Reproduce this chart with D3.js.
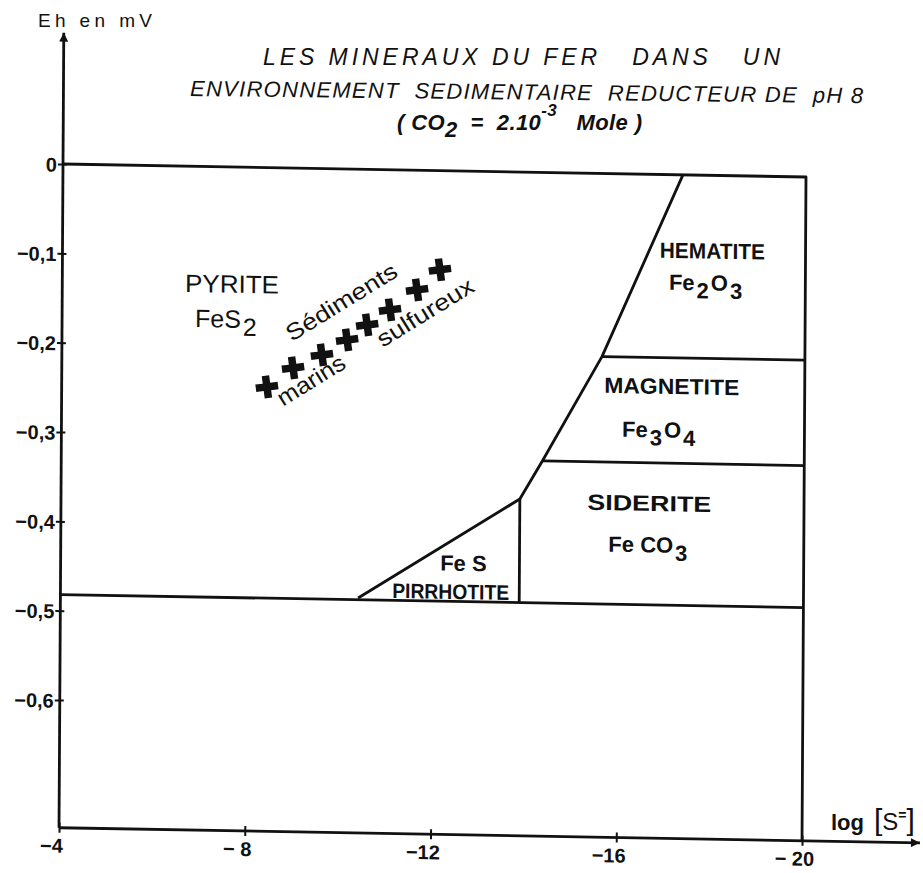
<!DOCTYPE html>
<html lang="fr">
<head>
<meta charset="utf-8">
<title>Les minéraux du fer</title>
<script src="https://cdn.jsdelivr.net/npm/d3@7"></script>
<style>
  body { margin: 0; background: #fff; }
  svg text { font-family: "Liberation Sans", Arial, sans-serif; fill: #111; }
</style>
</head>
<body>
<div id="chart"></div>
<script>
    // axis ticks
    var xTicks = [-4, -8, -12, -16, -20]
    var xTickLabels = ["−4", "− 8", "−12", "−16", "− 20"]
    var yTicks = [0, -0.1, -0.2, -0.3, -0.4, -0.5, -0.6]
    var yTickLabels = ["0", "−0,1", "−0,2", "−0,3", "−0,4", "−0,5", "−0,6"]

    // field boundaries as [log S=, Eh]
    var frame = [[-4, 0], [-20, 0], [-20, -0.743]]
    var lowerLimit = [[-4, -0.482], [-20, -0.482]]
    var oxideBoundary = [[-17.35, 0], [-15.63, -0.205], [-14.36, -0.323], [-13.88, -0.366], [-10.41, -0.48]]
    var fesLimit = [[-13.88, -0.366], [-13.88, -0.482]]
    var hematiteMagnetite = [[-15.63, -0.205], [-20, -0.205]]
    var magnetiteSiderite = [[-14.36, -0.323], [-20, -0.323]]

    // marine sulphur sediments
    var sampleLogS = [-8.42, -8.98, -9.60, -10.14, -10.57, -11.06, -11.64, -12.13]
    var sampleEh = [-0.2455, -0.2237, -0.2086, -0.1913, -0.1741, -0.1568, -0.1339, -0.111]

    // field names, parts flagged 1 are subscripts
    var fieldNames = [
        { parts: [["PYRITE", 0]], logS: -6.60, eh: -0.1408, len: 94 },
        { parts: [["FeS", 0], ["2", 1]], logS: -6.82, eh: -0.1798 },
        { parts: [["HEMATITE", 0]], logS: -16.82, eh: -0.0932, bold: true, len: 105 },
        { parts: [["Fe", 0], ["2", 1], ["O", 0], ["3", 1]], logS: -17.02, eh: -0.1288, bold: true },
        { parts: [["MAGNETITE", 0]], logS: -15.64, eh: -0.2455, bold: true, len: 135 },
        { parts: [["Fe", 0], ["3", 1], ["O", 0], ["4", 1]], logS: -16.03, eh: -0.2944, bold: true },
        { parts: [["SIDERITE", 0]], logS: -15.29, eh: -0.3768, bold: true, len: 124 },
        { parts: [["Fe CO", 0], ["3", 1]], logS: -15.75, eh: -0.4232, bold: true },
        { parts: [["Fe S", 0]], logS: -12.13, eh: -0.4475, bold: true },
        { parts: [["PIRRHOTITE", 0]], logS: -11.10, eh: -0.4792, bold: true, small: true, len: 117 }
    ]
    var sampleNotes = [
        { text: "Sédiments", logS: -8.95, eh: -0.1947, len: 127 },
        { text: "marins", logS: -8.77, eh: -0.2675, len: 76 },
        { text: "sulfureux", logS: -10.91, eh: -0.1995, len: 110 }
    ]

    var ehBottom = -0.743, ehAxisTop = 0.147, logSAxisEnd = -22.54

    var svg = d3.select("#chart").append("svg")
        .attr("width", 923)
        .attr("height", 873)

    var defs = svg.append("defs")
    defs.append("marker")
        .attr("id", "arrow")
        .attr("viewBox", "0 0 10 10")
        .attr("refX", 10).attr("refY", 5)
        .attr("markerUnits", "userSpaceOnUse")
        .attr("markerWidth", 24).attr("markerHeight", 9)
        .attr("orient", "auto")
        .append("path").attr("d", "M0,0L10,5L0,10z").attr("fill", "#111")

    // scales (the scan is slightly skewed, so the plot group gets a small shear)
    var x = d3.scaleLinear().domain([-4, -20]).range([63, 806])
    var y = d3.scaleLinear().domain([0, -0.6]).range([164, 700])

    var g = svg.append("g")
        .attr("transform", "translate(63,164) matrix(1,0.0175,-0.006,1,0,0) translate(-63,-164)")

    var line = d3.line().x(d => x(d[0])).y(d => y(d[1]))

    // axes lines with arrows
    g.append("line")
        .attr("x1", x(-4)).attr("y1", y(ehBottom))
        .attr("x2", x(-4)).attr("y2", y(ehAxisTop))
        .attr("stroke", "#111").attr("stroke-width", 2.8)
        .attr("marker-end", "url(#arrow)")
    g.append("line")
        .attr("x1", x(-4)).attr("y1", y(ehBottom))
        .attr("x2", x(logSAxisEnd)).attr("y2", y(ehBottom))
        .attr("stroke", "#111").attr("stroke-width", 2.8)
        .attr("marker-end", "url(#arrow)")

    var xAxis = g.append("g")
        .attr("transform", "translate(0," + y(ehBottom) + ")")
        .call(d3.axisBottom(x).tickValues(xTicks).tickFormat((d, i) => xTickLabels[i]).tickSizeOuter(0))
    var yAxis = g.append("g")
        .attr("transform", "translate(" + x(-4) + ",0)")
        .call(d3.axisLeft(y).tickValues(yTicks).tickFormat((d, i) => yTickLabels[i]).tickSizeOuter(0))

    xAxis.select(".domain").remove()
    yAxis.select(".domain").remove()
    xAxis.selectAll(".tick line").attr("y1", -5).attr("y2", 5).attr("stroke", "#111").attr("stroke-width", 2)
    yAxis.selectAll(".tick line").attr("x1", -5).attr("x2", 4).attr("stroke", "#111").attr("stroke-width", 2)
    xAxis.selectAll(".tick text")
        .attr("y", 25).attr("dy", 0).attr("dx", -8)
        .attr("font-size", 20).attr("font-weight", "bold")
        .style("white-space", "pre")
    yAxis.selectAll(".tick text")
        .attr("x", -6).attr("dy", "0.36em")
        .attr("font-size", 20).attr("font-weight", "bold")

    // stability field boundaries
    var bounds = [frame, lowerLimit, oxideBoundary, fesLimit, hematiteMagnetite, magnetiteSiderite]
    g.selectAll("path.bound")
        .data(bounds)
        .enter()
        .append("path")
        .attr("class", "bound")
        .attr("d", line)
        .attr("fill", "none")
        .attr("stroke", "#111")
        .attr("stroke-width", 2.8)
        .attr("stroke-linejoin", "round")

    // samples
    g.selectAll("path.sample")
        .data(sampleLogS)
        .enter()
        .append("path")
        .attr("class", "sample")
        .attr("d", d3.symbol().type(d3.symbolCross).size(280))
        .attr("transform", (d, i) => "translate(" + x(d) + "," + y(sampleEh[i]) + ") rotate(-8)")
        .attr("fill", "#111")

    // field names
    fieldNames.forEach(function (f) {
        var t = g.append("text")
            .attr("x", x(f.logS)).attr("y", y(f.eh))
            .attr("font-size", f.small ? 21 : f.bold ? 22 : 25)
            .attr("font-weight", f.bold ? "bold" : "normal")
            .style("white-space", "pre")
        if (f.len) t.attr("textLength", f.len).attr("lengthAdjust", "spacingAndGlyphs")
        var prev = 0
        f.parts.forEach(function (p) {
            t.append("tspan")
                .attr("dy", (p[1] - prev) * 8)
                .attr("dx", 2)
                .text(p[0])
            prev = p[1]
        })
    })

    g.selectAll("text.note")
        .data(sampleNotes)
        .enter()
        .append("text")
        .attr("class", "note")
        .attr("transform", d => "translate(" + x(d.logS) + "," + y(d.eh) + ") rotate(-32.5)")
        .attr("font-size", 23)
        .attr("textLength", d => d.len)
        .attr("lengthAdjust", "spacingAndGlyphs")
        .text(d => d.text)

    // axis names
    svg.append("text")
        .attr("x", 38).attr("y", 27)
        .attr("font-size", 19)
        .attr("textLength", 114)
        .attr("lengthAdjust", "spacing")
        .text("Eh en mV")

    var sLabel = svg.append("text")
        .attr("x", 831).attr("y", 830)
        .attr("font-weight", "bold")
    sLabel.append("tspan").attr("font-size", 22).text("log")
    sLabel.append("tspan").attr("dx", 10).attr("font-size", 30).attr("font-weight", "normal").text("[")
    sLabel.append("tspan").attr("font-size", 24).attr("font-weight", "normal").text("S")
    sLabel.append("tspan").attr("font-size", 14).attr("dy", -10).text("=")
    sLabel.append("tspan").attr("font-size", 30).attr("dy", 10).attr("font-weight", "normal").text("]")

    // title
    svg.append("text")
        .attr("x", 263).attr("y", 65)
        .attr("font-size", 23).attr("font-style", "italic")
        .attr("textLength", 517).attr("lengthAdjust", "spacing")
        .style("white-space", "pre")
        .text("LES MINERAUX DU FER   DANS   UN")
    svg.append("text")
        .attr("x", 190).attr("y", 96)
        .attr("font-size", 22).attr("font-style", "italic")
        .attr("textLength", 673).attr("lengthAdjust", "spacing")
        .attr("transform", "rotate(0.6,190,96)")
        .style("white-space", "pre")
        .text("ENVIRONNEMENT  SEDIMENTAIRE  REDUCTEUR DE  pH 8")
    var t3 = svg.append("text")
        .attr("x", 397).attr("y", 130)
        .attr("font-size", 22).attr("font-style", "italic").attr("font-weight", "bold")
        .attr("textLength", 245).attr("lengthAdjust", "spacing")
        .style("white-space", "pre")
    t3.append("tspan").text("( CO")
    t3.append("tspan").attr("dy", 7).text("2")
    t3.append("tspan").attr("dy", -7).text("  =  2.10")
    t3.append("tspan").attr("dy", -14).attr("font-size", 17).text("-3")
    t3.append("tspan").attr("dy", 14).text("   Mole )")
</script>
</body>
</html>
